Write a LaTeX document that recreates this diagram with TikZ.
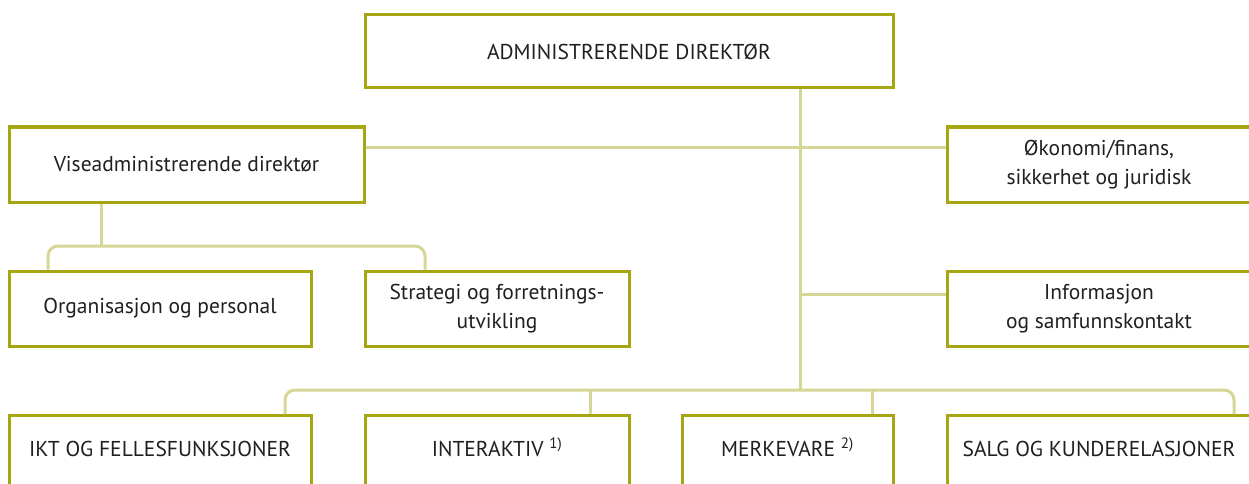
\documentclass[tikz,border=0pt]{standalone}
\usepackage{fontspec}
\setmainfont{PT Sans}
\definecolor{boxline}{RGB}{166,166,18}
\definecolor{linkline}{RGB}{214,214,150}
\definecolor{inktext}{RGB}{35,31,32}

\begin{document}
\begin{tikzpicture}[x=1pt, y=-1pt,
  box/.style={rectangle, draw=boxline, line width=3pt, fill=white, text=inktext, align=center, inner sep=0pt, minimum height=75pt},
  unit/.style={box, anchor=north, minimum height=120pt, text height=15pt, text depth=53pt},
  link/.style={draw=linkline, line width=3pt},
  font=\fontsize{21.5}{29}\selectfont]
  \useasboundingbox (0,0) rectangle (1249,484);
  \clip (0,0) rectangle (1249,484);

  \node[box, minimum width=528pt, minimum height=73pt] (top) at (629,51.5) {ADMINISTRERENDE DIREKTØR};
  \node[box, minimum width=355pt] (vise) at (186.5,164.5) {Viseadministrerende direktør};
  \node[box, minimum width=304pt] (okonomi) at (1099,164.5) {Økonomi/finans,\\sikkerhet og juridisk};
  \node[box, minimum width=302pt] (org) at (160,308.5) {Organisasjon og personal};
  \node[box, minimum width=264pt] (strat) at (497,308.5) {Strategi og forretnings-\\utvikling};
  \node[box, minimum width=304pt] (info) at (1099,308.5) {Informasjon\\og samfunnskontakt};

  \node[unit, minimum width=302pt] (ikt) at (160,414) {IKT OG FELLESFUNKSJONER};
  \node[unit, minimum width=264pt] (inter) at (497,414) {INTERAKTIV \textsuperscript{1)}};
  \node[unit, minimum width=211pt] (merke) at (787.5,414) {MERKEVARE \textsuperscript{2)}};
  \node[unit, minimum width=304pt] (salg) at (1099,414) {SALG OG KUNDERELASJONER};

  \node[coordinate] (spine) at (800,390) {};
  \node[coordinate] (okjoin) at (800,147) {};
  \node[coordinate] (infojoin) at (800,294) {};
  \node[coordinate] (visejoin) at (101,246) {};
  \node[coordinate] (orgleg) at (48,246) {};
  \node[coordinate] (stratleg) at (425,246) {};
  \node[coordinate] (iktleg) at (285,390) {};
  \node[coordinate] (salgleg) at (1234,390) {};
  \node[coordinate] (interleg) at (590,390) {};
  \node[coordinate] (merkeleg) at (872,390) {};

  \draw[link] (top.south -| spine) -- (spine);
  \draw[link] (vise.east |- okjoin) -- (okonomi.west |- okjoin);
  \draw[link] (infojoin) -- (info.west |- infojoin);
  \draw[link] (vise.south -| visejoin) -- (visejoin);
  \draw[link, rounded corners=10pt] (org.north -| orgleg) -- (orgleg) -- (stratleg) -- (strat.north -| stratleg);
  \draw[link, rounded corners=10pt] (ikt.north -| iktleg) -- (iktleg) -- (salgleg) -- (salg.north -| salgleg);
  \draw[link] (interleg) -- (inter.north -| interleg);
  \draw[link] (merkeleg) -- (merke.north -| merkeleg);

\end{tikzpicture}
\end{document}
